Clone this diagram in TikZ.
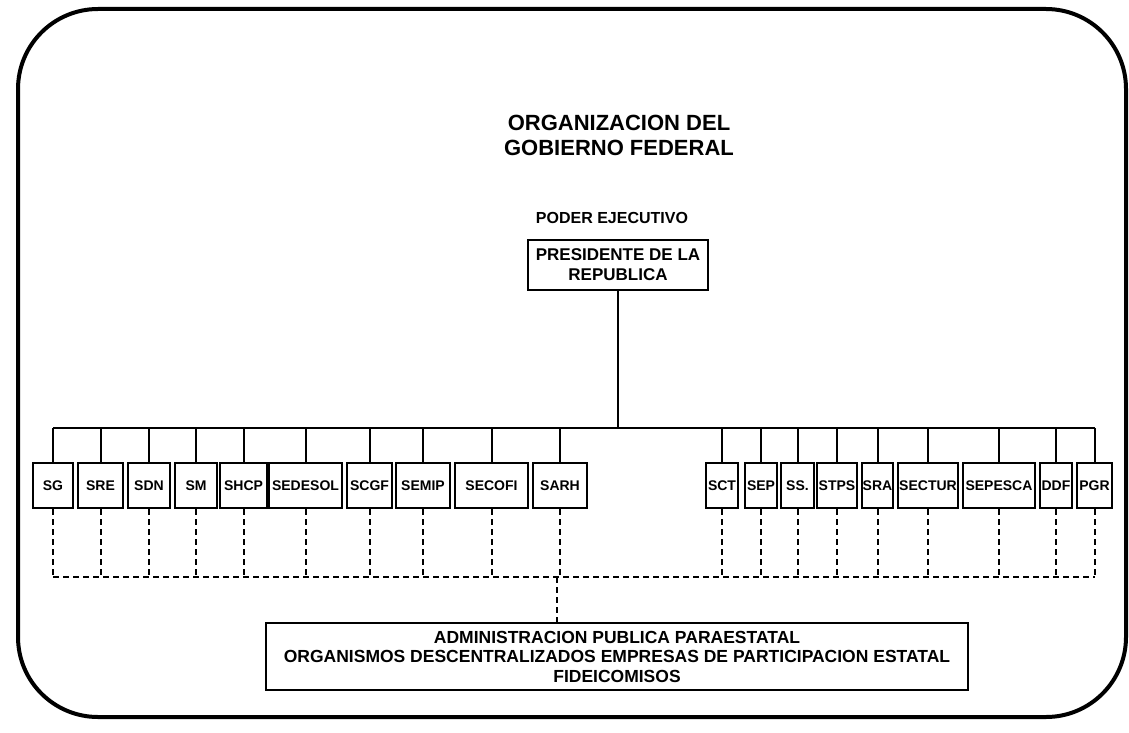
\documentclass[tikz,border=0pt]{standalone}
\usepackage{fontspec}
\setmainfont{Liberation Sans}
\begin{document}
\begin{tikzpicture}[x=1pt,y=-1pt,
  secbox/.style={draw, line width=2pt, inner sep=0pt, minimum height=45pt,
    font=\bfseries\fontsize{14}{16}\selectfont},
  bigbox/.style={draw, line width=2pt, inner sep=0pt, align=center},
  conn/.style={line width=2pt},
  dconn/.style={line width=2pt, dash pattern=on 6pt off 4pt},
  frame/.style={line width=4pt, rounded corners=80pt}]
\useasboundingbox (0,0) rectangle (1129,733);
\draw[frame] (18,9) rectangle (1126,717);

\node[font=\bfseries\fontsize{22}{25}\selectfont, align=center] (title) at (619,135)
  {ORGANIZACION DEL\\GOBIERNO FEDERAL};
\node[font=\bfseries\fontsize{16}{19}\selectfont] (poder) at (612,218) {PODER EJECUTIVO};
\node[bigbox, minimum width=180pt, minimum height=50pt,
  font=\bfseries\fontsize{17}{20}\selectfont] (pres) at (618,265)
  {PRESIDENTE DE LA\\REPUBLICA};

\coordinate (bus) at (617,428);
\coordinate (dbus) at (557,577);

\foreach \n/\t/\c/\w in {sg/SG/53/40, sre/SRE/100.5/45, sdn/SDN/149/42, sm/SM/196/42,
  shcp/SHCP/243.5/47, sedesol/SEDESOL/305.5/73, scgf/SCGF/369.5/45, semip/SEMIP/423/54,
  secofi/SECOFI/491.5/73, sarh/SARH/560/54, sct/SCT/722/32, sep/SEP/761/32,
  ss/SS./797.5/33, stps/STPS/837/40, sra/SRA/877.5/31, sectur/SECTUR/928/60,
  sepesca/SEPESCA/999/72, ddf/DDF/1056/32, pgr/PGR/1094.5/35}
  {\node[secbox, minimum width=\w pt] (\n) at (\c,485.5) {\t};}

\node[bigbox, minimum width=702pt, minimum height=67pt,
  font=\bfseries\fontsize{17.5}{19.5}\selectfont] (ap) at (617,656.5)
  {ADMINISTRACION PUBLICA PARAESTATAL\\
   ORGANISMOS DESCENTRALIZADOS EMPRESAS DE PARTICIPACION ESTATAL\\
   FIDEICOMISOS};

\draw[conn] (pres.south) -- (pres.south |- bus);
\draw[conn] (sg.north |- bus) -- (pgr.north |- bus);
\draw[dconn] (sg.south |- dbus) -- (pgr.south |- dbus);
\draw[dconn] (dbus) -- (dbus |- ap.north);

\foreach \n in {sg,sre,sdn,sm,shcp,sedesol,scgf,semip,secofi,sarh,
  sct,sep,ss,stps,sra,sectur,sepesca,ddf,pgr}
  {\draw[conn] (\n.north) -- (\n.north |- bus);
   \draw[dconn] (\n.south) -- (\n.south |- dbus);}
\end{tikzpicture}
\end{document}
